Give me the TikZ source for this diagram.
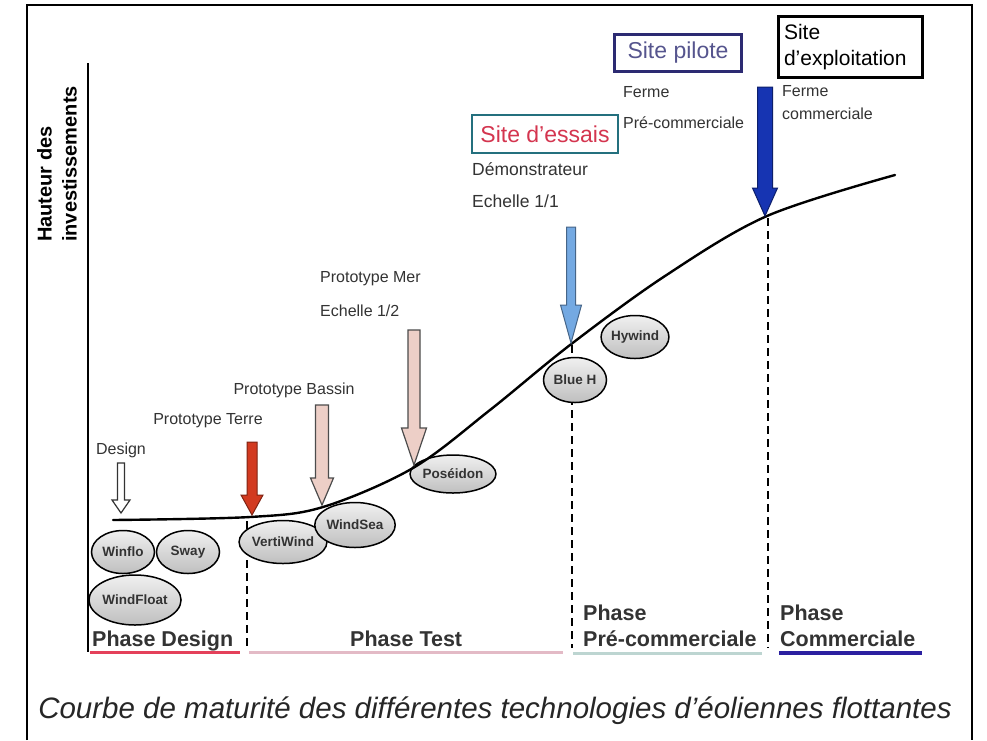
\documentclass[tikz,border=0pt]{standalone}
\usepackage{fontspec}
\setmainfont{Liberation Sans}
\usepackage{tikz}
\usetikzlibrary{shapes.geometric}
\definecolor{tgray}{HTML}{333333}
\definecolor{tred}{HTML}{D23A20}
\definecolor{tpink}{HTML}{EDCFC7}
\definecolor{tsky}{HTML}{74A9E2}
\definecolor{tnavy}{HTML}{1634B2}
\definecolor{tteal}{HTML}{24707E}
\definecolor{tessai}{HTML}{D4354F}
\definecolor{tpurple}{HTML}{2C2A72}
\definecolor{ulred}{HTML}{E4405A}
\definecolor{ulpink}{HTML}{E3BAC6}
\definecolor{ulmint}{HTML}{BDD5D1}
\definecolor{ulblue}{HTML}{2B20A0}
\tikzset{
  lbl/.style={font=\fontsize{16}{19}\selectfont,text=tgray,inner sep=0pt},
  capsule/.style={ellipse,draw=black,line width=1.5pt,top color=gray!12,bottom color=gray!50,font=\fontsize{13.5}{15}\selectfont\bfseries,text=tgray,inner sep=0pt},
  site/.style={draw,line width=2.5pt,fill=white,font=\fontsize{23}{26}\selectfont,inner sep=0pt},
  phase/.style={font=\fontsize{21.5}{26}\selectfont\bfseries,text=tgray,inner sep=0pt,align=left},
  uline/.style={line width=3pt},
  split/.style={dash pattern=on 8pt off 5pt,line width=1.2pt},
  curve/.style={line width=2.4pt,line cap=round},
}
% block arrow: style, x, top, tip, shaft half width, head half width, head length
\newcommand{\blockarr}[7]{%
  \filldraw[#1] ({#2-#5},#3) -- ({#2+#5},#3) -- ({#2+#5},{#4-#7}) -- ({#2+#6},{#4-#7})
    -- (#2,#4) -- ({#2-#6},{#4-#7}) -- ({#2-#5},{#4-#7}) -- cycle;}

\begin{document}
\begin{tikzpicture}[x=1pt,y=-1pt]
  \useasboundingbox (0,0) rectangle (987,740);
  \fill[white] (0,0) rectangle (987,740);
  % frame and axis
  \draw[line width=1.5pt] (27,740) -- (27,5) -- (972,5) -- (972,740);
  \draw[line width=1.6pt] (88,63) -- (88,652);
  \node[rotate=90,anchor=west,align=left,font=\fontsize{20}{25}\selectfont\bfseries,inner sep=0pt] (yaxis) at (57,242) {Hauteur des\\investissements};

  % phase limits
  \coordinate (cTerre) at (247,521);
  \coordinate (cEssai) at (572,345);
  \coordinate (cPilote) at (768,218);
  \draw[split] (cTerre) -- (247,648);
  \draw[split] (cEssai) -- (572,648);
  \draw[split] (cPilote) -- (768,648);

  % technologies
  \node[capsule,minimum width=63pt,minimum height=43pt] (winflo) at (123,552) {Winflo};
  \node[capsule,minimum width=63pt,minimum height=43pt] (sway) at (188,552) {Sway};
  \node[capsule,minimum width=87pt,minimum height=50pt] (windfloat) at (135,600) {WindFloat};
  \node[capsule,minimum width=73pt,minimum height=43pt] (vertiwind) at (283,542) {VertiWind};
  \node[capsule,minimum width=75pt,minimum height=45pt] (windsea) at (355,525) {WindSea};
  \node[capsule,minimum width=84pt,minimum height=38pt] (poseidon) at (453,474) {Poséidon};
  \node[capsule,minimum width=63pt,minimum height=45pt] (blueh) at (575,380) {Blue H};
  \node[capsule,minimum width=63pt,minimum height=43pt] (hywind) at (635,337) {Hywind};

  % maturity curve
  \draw[curve] plot[smooth,tension=0.55] coordinates {(113,520) (250,517) (323,507) (413,468) (490,410) (570,345) (665,276) (767,216) (895,175)};

  % arrows
  \blockarr{fill=white,draw=tgray,line width=1.2pt}{121}{463}{513}{3.5}{9}{13}
  \blockarr{fill=tred,draw=tred!60!black,line width=1pt}{252}{442}{515}{5}{11}{20}
  \blockarr{fill=tpink,draw=black!70,line width=1.2pt}{322}{405}{505}{6.5}{11.5}{27}
  \blockarr{fill=tpink,draw=black!70,line width=1.2pt}{414}{330}{465}{6}{12.5}{37}
  \blockarr{fill=tsky,draw=tsky!60!black,line width=1pt}{571}{227}{343}{4.5}{10.5}{38}
  \blockarr{fill=tnavy,draw=tnavy!60!black,line width=1pt}{765}{87}{216}{7.5}{12.5}{28}

  % labels
  \node[lbl] (design) at (121,450) {Design};
  \node[lbl] (terre) at (208,421) {Prototype Terre};
  \node[lbl] (bassin) at (294,390) {Prototype Bassin};
  \node[lbl,anchor=west] (mer) at (320,279) {Prototype Mer};
  \node[lbl,anchor=west] (mer2) at (320,311) {Echelle 1/2};
  \node[site,draw=tteal,text=tessai,minimum width=146pt,minimum height=38pt] (essai) at (545,134) {Site d'essais};
  \node[lbl,anchor=west,font=\fontsize{17.5}{19}\selectfont] (demo) at (472,169) {Démonstrateur};
  \node[lbl,anchor=west,font=\fontsize{17.5}{19}\selectfont] (demo2) at (472,201) {Echelle 1/1};
  \node[site,draw=tpurple,text=tpurple!80!white,minimum width=127pt,minimum height=37pt] (pilote) at (678,53) {Site pilote};
  \node[lbl,anchor=west] (ferme) at (623,92) {Ferme};
  \node[lbl,anchor=west] (ferme2) at (623,123) {Pré-commerciale};
  \node[site,line width=3pt,text=black,font=\fontsize{21}{26}\selectfont,text width=132pt,align=left,inner xsep=6pt,minimum height=61pt] (exploit) at (850,47) {Site\\d'exploitation};
  \node[lbl,anchor=west,align=left,font=\fontsize{16}{23}\selectfont] (commerce) at (782,103) {Ferme\\commerciale};

  % phases
  \node[phase,anchor=base west] (pdesign) at (92,646) {Phase Design};
  \node[phase,anchor=base west] (ptest) at (350,646) {Phase Test};
  \node[phase,anchor=south west] (ppre) at (583,647) {Phase\\Pré-commerciale};
  \node[phase,anchor=south west] (pcom) at (780,647) {Phase\\Commerciale};
  \draw[uline,ulred] (90,652) -- (240,652);
  \draw[uline,ulpink] (249,652) -- (563,652);
  \draw[uline,ulmint] (573,653) -- (762,653);
  \draw[uline,ulblue,line width=4pt] (779,653) -- (922,653);

  \node[font=\fontsize{29.5}{34}\selectfont\itshape,text=black!85] (caption) at (495,711) {Courbe de maturité des différentes technologies d'éoliennes flottantes};
\end{tikzpicture}
\end{document}
